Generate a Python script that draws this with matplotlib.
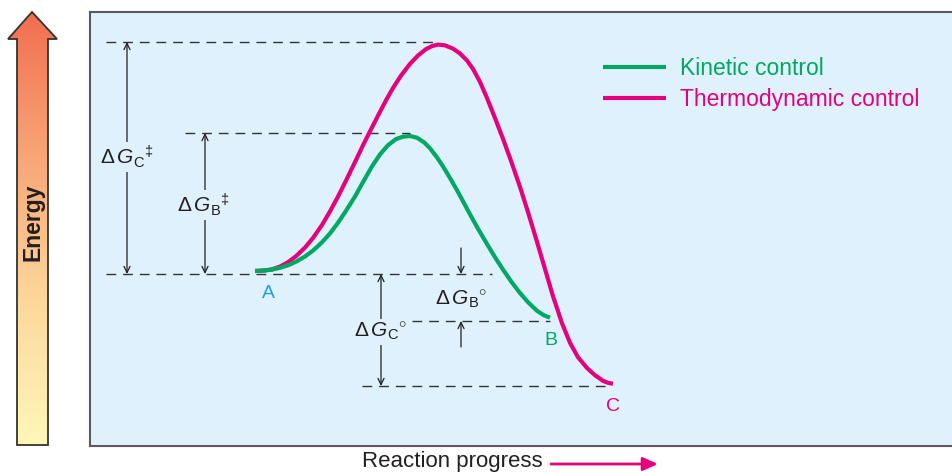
import matplotlib
matplotlib.use("Agg")
import numpy as np
import matplotlib.pyplot as plt
from matplotlib.colors import LinearSegmentedColormap
from matplotlib.patches import Polygon, FancyArrowPatch

plt.rcParams["font.family"] = ["Liberation Sans", "DejaVu Sans"]
plt.rcParams["mathtext.fontset"] = "custom"
plt.rcParams["mathtext.rm"] = "Liberation Sans"
plt.rcParams["mathtext.it"] = "Liberation Sans:italic"
plt.rcParams["mathtext.bf"] = "Liberation Sans:bold"

# energy levels (arbitrary units, reactant A = 0)
E_A = 0
E_TS_B = 141
E_TS_C = 232
E_B = -47
E_C = -112

# reaction progress (arbitrary units) and energy along each path
kin_x = [255, 264, 272, 280, 288, 296, 305, 313, 322, 330, 338, 346, 355, 363,
         372, 380, 388, 396, 403, 410, 417, 424, 430, 437, 443, 450, 457, 463,
         470, 478, 487, 495, 503, 512, 520, 528, 537, 544, 550]
kin_e = [3, 3.5, 4.4, 6.2, 8.7, 12.3, 17.5, 23.4, 31.7, 40.6, 51.2, 63.2, 77.5, 91.9,
         107.6, 119.6, 128.8, 134.9, 137.3, 138, 136.3, 131.7, 125.7, 116.6, 107.6, 96, 83.8, 72.7,
         59.7, 45.3, 30, 16.8, 4.4, -8.6, -19, -28.2, -36.8, -41.3, -43.7]

thermo_x = [255, 264, 272, 280, 288, 296, 305, 313, 322, 330, 338, 346, 355, 363,
            370, 380, 387, 393, 401, 410, 418, 426, 432, 438, 445, 453, 460, 467,
            473, 480, 487, 495, 503, 511, 520, 528, 537, 545, 553, 562, 570, 578,
            587, 595, 603, 608, 613]
thermo_e = [3, 3.5, 4.6, 7.4, 11.8, 17.8, 26.4, 36, 49, 62.6, 77.4, 93.4, 111.9, 128.7,
            142.7, 162.2, 175.5, 186, 198.4, 210.1, 218.5, 224.9, 227.9, 229.4, 228.6, 225.4, 220.5, 213.5,
            205.1, 192.1, 176, 156, 135.2, 113.2, 87.1, 61.9, 32.2, 5, -22.2, -49.2, -68.8, -83.2,
            -94, -101.2, -106.8, -108.8, -109.8]

GREEN = "#00a862"
MAGENTA = "#e5007d"
CYAN = "#1ba1e2"
BG = "#dff1fc"
INK = "#231f20"

fig = plt.figure(figsize=(9.52, 4.73), dpi=100)
ax = fig.add_axes([90 / 952, 27 / 473, 872 / 952, 434 / 473])
ax.set_facecolor(BG)
ax.set_xlim(90, 962)
ax.set_ylim(-172, 262)
ax.set_xticks([])
ax.set_yticks([])
for s in ax.spines.values():
    s.set_color("#5a5a5a")
    s.set_linewidth(1.5)

# dashed energy levels
dash = dict(color="#333333", lw=1.0, ls=(0, (7, 5)), zorder=1)
ax.plot([106, 437], [E_TS_C, E_TS_C], **dash)
ax.plot([185, 410], [E_TS_B, E_TS_B], **dash)
ax.plot([106, 492], [E_A, E_A], **dash)
ax.plot([412, 550], [E_B, E_B], **dash)
ax.plot([362, 612], [E_C, E_C], **dash)

# energy curves
ax.plot(thermo_x, thermo_e, color=MAGENTA, lw=3, solid_capstyle="butt",
        solid_joinstyle="round", label="Thermodynamic control", zorder=3)
ax.plot(kin_x, kin_e, color=GREEN, lw=3, solid_capstyle="butt",
        solid_joinstyle="round", label="Kinetic control", zorder=4)

# double arrows with labels
arr = dict(arrowstyle="<->,head_length=0.45,head_width=0.22", color=INK, lw=0.9,
           shrinkA=0, shrinkB=0)
one = dict(arrowstyle="->,head_length=0.45,head_width=0.22", color=INK, lw=0.9,
           shrinkA=0, shrinkB=0)
box = dict(facecolor=BG, edgecolor="none", pad=1.5)

ax.annotate("", xy=(127, E_TS_C), xytext=(127, E_A), arrowprops=arr, zorder=2)
ax.text(127, 117, r"$\Delta\,G_{\mathrm{C}}{}^{‡}$", fontsize=15, color=INK,
        ha="center", va="center", bbox=box, zorder=2.5)

ax.annotate("", xy=(205, E_TS_B), xytext=(205, E_A), arrowprops=arr, zorder=2)
ax.text(203, 69, r"$\Delta\,G_{\mathrm{B}}{}^{‡}$", fontsize=15, color=INK,
        ha="center", va="center", bbox=box, zorder=2.5)

ax.annotate("", xy=(381, E_C), xytext=(381, E_A), arrowprops=arr, zorder=2)
ax.text(380, -58, r"$\Delta\,G_{\mathrm{C}}{}^{\circ}$", fontsize=15, color=INK,
        ha="center", va="center", bbox=box, zorder=2.5)

ax.annotate("", xy=(461, E_A), xytext=(461, 26), arrowprops=one, zorder=2)
ax.annotate("", xy=(461, E_B), xytext=(461, -73), arrowprops=one, zorder=2)
ax.text(461, -26, r"$\Delta\,G_{\mathrm{B}}{}^{\circ}$", fontsize=15, color=INK,
        ha="center", va="center", zorder=2.5)

# species labels
ax.text(268, -19, "A", color=CYAN, fontsize=14, ha="center", va="center")
ax.text(551, -66, "B", color=GREEN, fontsize=14, ha="center", va="center")
ax.text(613, -132, "C", color=MAGENTA, fontsize=14, ha="center", va="center")

h, l = ax.get_legend_handles_labels()
ax.legend(h[::-1], l[::-1], loc="upper left", bbox_to_anchor=(603, 217),
          bbox_transform=ax.transData, frameon=False, fontsize=16.5,
          handlelength=2.75, handletextpad=0.61, labelspacing=0.35,
          borderpad=0, borderaxespad=0, labelcolor="linecolor")

# decorations in pixel coordinates: energy arrow and progress label
deco = fig.add_axes([0, 0, 1, 1], zorder=5)
deco.axis("off")
deco.patch.set_alpha(0)

cmap = LinearSegmentedColormap.from_list("energy", ["#f26d4f", "#f8a676", "#fdd79c", "#fff7b8"])
shape = Polygon([(17, 445), (48, 445), (48, 39), (57, 39), (32, 12), (8, 39), (17, 39)],
                closed=True, facecolor="none", edgecolor="#333333", lw=1.3, zorder=3)
deco.add_patch(shape)
grad = deco.imshow(np.linspace(0, 1, 256).reshape(-1, 1), cmap=cmap, aspect="auto",
                   extent=(8, 57, 445, 12), origin="upper", zorder=2)
grad.set_clip_path(shape)
deco.set_xlim(0, 952)
deco.set_ylim(473, 0)
deco.text(33, 222, "Energy", rotation=90, fontsize=16.5, fontweight="bold", color=INK,
          ha="center", va="center", zorder=4)

deco.text(362, 467, "Reaction progress", fontsize=16, color=INK, ha="left", va="baseline")
deco.add_patch(FancyArrowPatch((551, 464), (658, 464), arrowstyle="-|>,head_length=9,head_width=4",
                               color=MAGENTA, lw=2, shrinkA=0, shrinkB=0, mutation_scale=1))

fig.savefig("out.png", dpi=100)
